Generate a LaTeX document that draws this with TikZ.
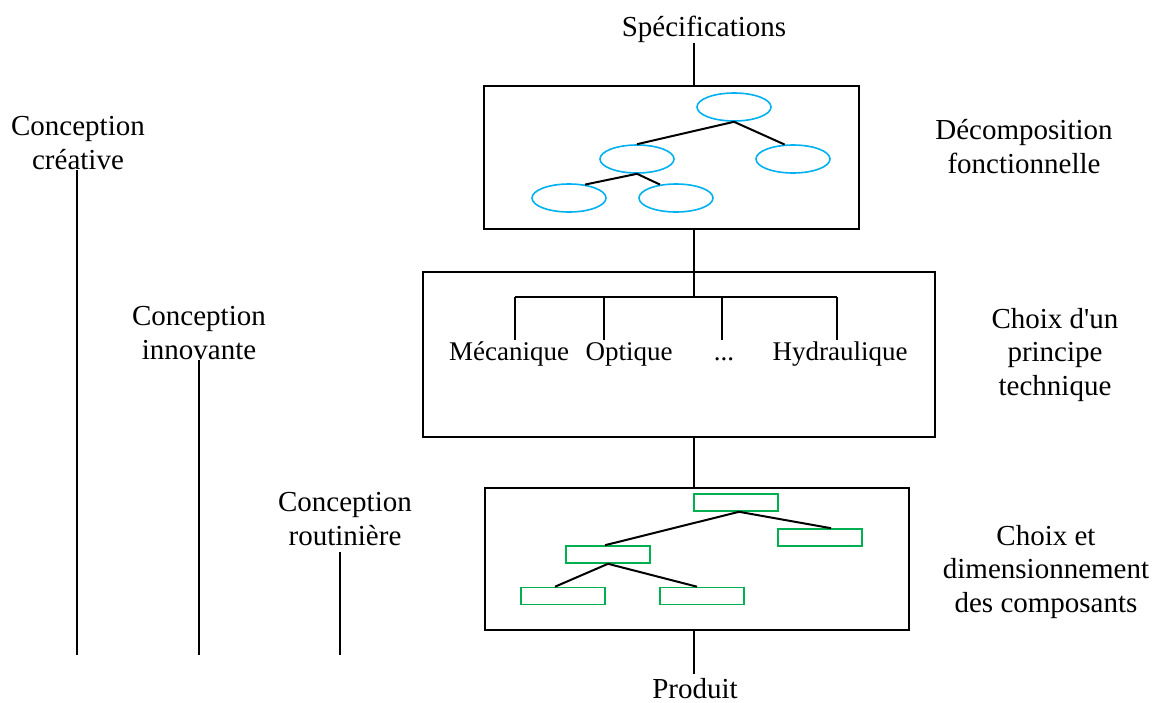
\documentclass[tikz,border=0pt]{standalone}
\usepackage{fontspec}
\setmainfont{Liberation Serif}[Ligatures=TeXOff]
\usetikzlibrary{shapes.geometric}
\definecolor{bleu}{RGB}{0,176,240}
\definecolor{vert}{RGB}{0,176,80}

\begin{document}
\begin{tikzpicture}[x=1pt,y=-1pt,line width=2pt,
        txt/.style={font=\fontsize{29}{33.5}\selectfont,align=center,inner sep=0pt},
        lab/.style={txt,font=\fontsize{27}{32}\selectfont,text height=19pt,text depth=6pt},
        boite/.style={draw,line width=2.2pt,anchor=north west,inner sep=0pt},
        fonction/.style={ellipse,draw=bleu,line width=1.6pt,minimum width=74pt,minimum height=28pt,inner sep=0pt},
        composant/.style={rectangle,draw=vert,line width=1.6pt,minimum width=84pt,minimum height=17pt,inner sep=0pt}]
        \useasboundingbox (0,0) rectangle (1159,702);

        % the main axis
        \coordinate (axe) at (694,0);
        \coordinate (bas) at (0,655);

        % the three boxes
        \node[boite,minimum width=375pt,minimum height=143pt] (decomp) at (483,85) {};
        \node[boite,minimum width=512pt,minimum height=165pt] (choix) at (422,271) {};
        \node[boite,minimum width=424pt,minimum height=142pt] (dimens) at (484,487) {};

        \node[txt,anchor=base] (spec) at (704,36) {Spécifications};
        \node[txt,anchor=base] (prod) at (695,698) {Produit};

        \draw (spec.south -| axe) -- (decomp.north -| axe);
        \draw (decomp.south -| axe) -- (choix.north -| axe);
        \draw (choix.south -| axe) -- (dimens.north -| axe);
        \draw (dimens.south -| axe) -- ([yshift=3pt]prod.north -| axe);

        % functional tree
        \node[fonction] (f0) at (734,107) {};
        \node[fonction] (f1) at (637,159) {};
        \node[fonction] (f2) at (793,159) {};
        \node[fonction] (f3) at (569,198) {};
        \node[fonction] (f4) at (676,198) {};
        \draw (f0.south) -- (f1.north);
        \draw (f0.south) -- (f2.120);
        \draw (f1.south) -- (f3.40);
        \draw (f1.south) -- (f4.140);

        % technical principles
        \coordinate (b1) at (515,297);
        \coordinate (b2) at (604,297);
        \coordinate (b3) at (722,297);
        \coordinate (b4) at (837,297);
        \node[lab,anchor=base] (meca) at (509,360) {Mécanique};
        \node[lab,anchor=base] (opti) at (629,360) {Optique};
        \node[lab,anchor=base] (autre) at (724,360) {...};
        \node[lab,anchor=base] (hydro) at (840,360) {Hydraulique};
        \draw (choix.north -| axe) -- (axe |- b1);
        \draw (b1) -- (b4);
        \draw (b1) -- (b1 |- meca.north);
        \draw (b2) -- (b2 |- opti.north);
        \draw (b3) -- (b3 |- autre.north);
        \draw (b4) -- (b4 |- hydro.north);

        % components tree
        \node[composant] (c0) at (736,502.5) {};
        \node[composant] (c1) at (608,554.5) {};
        \node[composant] (c2) at (820,537.5) {};
        \node[composant] (c3) at (563,596) {};
        \node[composant] (c4) at (702,596) {};
        \draw ([xshift=3pt]c0.south) -- ([xshift=-3pt]c1.north);
        \draw ([xshift=3pt]c0.south) -- ([xshift=11pt]c2.north);
        \draw (c1.south) -- ([xshift=-8pt]c3.north);
        \draw (c1.south) -- ([xshift=-5pt]c4.north);

        % right labels (base = last line)
        \node[txt,anchor=base] (l1) at (1024,173) {Décomposition\\fonctionnelle};
        \node[txt,anchor=base] (l2) at (1055,395) {Choix d'un\\principe\\technique};
        \node[txt,anchor=base] (l3) at (1046,612) {Choix et\\dimensionnement\\des composants};

        % kinds of design
        \node[txt,anchor=base] (cre) at (78,169) {Conception\\créative};
        \node[txt,anchor=base] (inno) at (199,359) {Conception\\innovante};
        \node[txt,anchor=base] (rout) at (345,545) {Conception\\routinière};
        \draw ([xshift=-1pt]cre.south) -- ([xshift=-1pt]cre.south |- bas);
        \draw (inno.south) -- (inno.south |- bas);
        \draw ([xshift=-5pt,yshift=-6pt]rout.south) -- ([xshift=-5pt]rout.south |- bas);
\end{tikzpicture}
\end{document}
